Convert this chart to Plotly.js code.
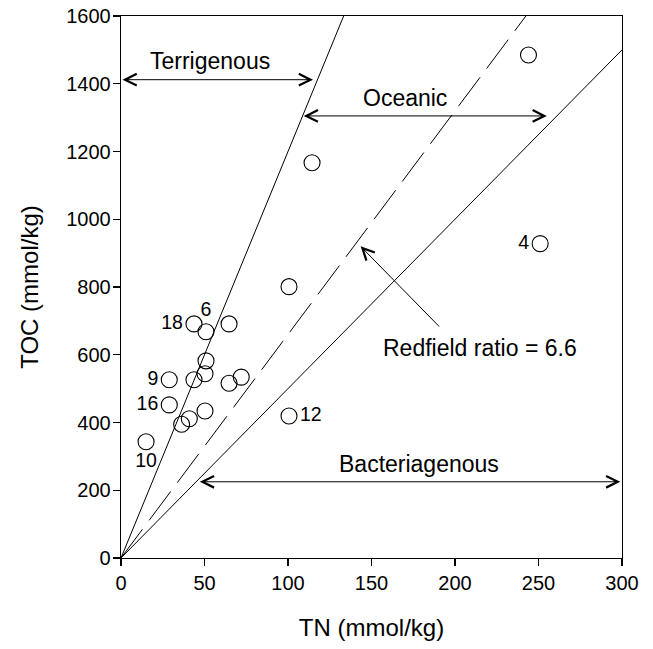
<!DOCTYPE html>
<html>
<head>
<meta charset="utf-8">
<script src="https://cdn.plot.ly/plotly-3.0.1.min.js"></script>
<style>html,body{margin:0;padding:0;background:#fff;}#chart{width:653px;height:649px;}</style>
</head>
<body>
<div id="chart"></div>
<script>
// Sample data (TN vs TOC, mmol/kg)
var tn  = [244, 114.4, 251, 100.6, 43.7, 50.9, 64.7, 50.9, 50.3, 28.9, 43.7, 64.7, 72, 28.9, 50.3, 40.9, 36.3, 15, 100.6];
var toc = [1485, 1167, 928, 801, 691, 668, 691, 582, 544, 526, 526, 516, 534, 452, 434, 411, 395, 343, 419];
var pointLabels = ['', '', '4', '', '18', '6', '', '', '', '9', '', '', '', '16', '', '', '', '10', '12'];
var labelPositions = ['middle left', 'middle left', 'middle left', 'middle left', 'middle left', 'top center', 'middle left', 'middle left', 'middle left', 'middle left', 'middle left', 'middle left', 'middle left', 'middle left', 'middle left', 'middle left', 'middle left', 'bottom center', 'middle right'];

// C/N ratio lines
var ratios = [12, 6.6, 5];
var ratioDash = ['solid', '36px,11px', 'solid'];

// Axis ranges / ticks
var xRange = [0, 300];
var yRange = [0, 1600];
var xTicks = [0, 50, 100, 150, 200, 250, 300];
var yTicks = [0, 200, 400, 600, 800, 1000, 1200, 1400, 1600];

// Region arrows
var regionNames  = ['Terrigenous', 'Oceanic', 'Bacteriagenous'];
var regionY      = [1412, 1305, 225];
var regionXStart = [0, 108.5, 46.3];
var regionXEnd   = [115, 255, 299];
var regionLabelX = [53.3, 170, 178.6];
var regionLabelY = [1466, 1358, 278];

// Redfield callout
var redfieldText = 'Redfield ratio = 6.6';
var redfieldTip = [143.5, 920];
var redfieldTail = [191.4, 679];
var redfieldLabel = [215, 620];

var FONT = 'Liberation Sans, Arial, sans-serif';

var traces = [];
ratios.forEach(function (r, i) {
  var xe = Math.min(xRange[1], yRange[1] / r);
  traces.push({
    x: [0, xe], y: [0, r * xe], mode: 'lines', type: 'scatter',
    line: {color: '#000', width: 1, dash: ratioDash[i]},
    hoverinfo: 'skip', showlegend: false
  });
});
traces.push({
  x: tn, y: toc, mode: 'markers+text', type: 'scatter',
  text: pointLabels, textposition: labelPositions,
  textfont: {family: FONT, size: 19.5, color: '#000'},
  marker: {symbol: 'circle-open', size: 16, color: '#000', line: {width: 1.1, color: '#000'}},
  showlegend: false, cliponaxis: false
});

var annotations = [];
regionNames.forEach(function (name, i) {
  annotations.push({
    x: regionXEnd[i], y: regionY[i], ax: regionXStart[i], ay: regionY[i],
    xref: 'x', yref: 'y', axref: 'x', ayref: 'y', text: '',
    showarrow: true, arrowhead: 5, startarrowhead: 5, arrowside: 'end+start',
    arrowsize: 2.3, startarrowsize: 2.3, arrowwidth: 1, arrowcolor: '#000', standoff: 0, startstandoff: 0
  });
  annotations.push({
    x: regionLabelX[i], y: regionLabelY[i], xref: 'x', yref: 'y', text: name,
    showarrow: false, font: {family: FONT, size: 23, color: '#000'}
  });
});
annotations.push({
  x: redfieldTip[0], y: redfieldTip[1], ax: redfieldTail[0], ay: redfieldTail[1],
  xref: 'x', yref: 'y', axref: 'x', ayref: 'y', text: '',
  showarrow: true, arrowhead: 5, arrowsize: 2.3, arrowwidth: 1, arrowcolor: '#000', standoff: 0
});
annotations.push({
  x: redfieldLabel[0], y: redfieldLabel[1], xref: 'x', yref: 'y', text: redfieldText,
  showarrow: false, font: {family: FONT, size: 23, color: '#000'}
});

var axisCommon = {
  showgrid: false, zeroline: false, showline: true, mirror: true,
  linecolor: '#000', linewidth: 1.3, ticks: 'outside', ticklen: 7, tickwidth: 1.3, tickcolor: '#000',
  tickfont: {family: FONT, size: 20, color: '#000'}
};

var layout = {
  width: 653, height: 649,
  margin: {l: 121, r: 31, t: 16, b: 91},
  paper_bgcolor: '#fff', plot_bgcolor: '#fff',
  xaxis: Object.assign({}, axisCommon, {
    range: xRange, tickvals: xTicks,
    title: {text: 'TN (mmol/kg)', font: {family: FONT, size: 24, color: '#000'}, standoff: 26}
  }),
  yaxis: Object.assign({}, axisCommon, {
    range: yRange, tickvals: yTicks, ticklabelstandoff: -2,
    title: {text: 'TOC (mmol/kg)', font: {family: FONT, size: 24, color: '#000'}, standoff: 20}
  }),
  annotations: annotations,
  showlegend: false
};

Plotly.newPlot('chart', traces, layout, {staticPlot: true});
</script>
</body>
</html>
